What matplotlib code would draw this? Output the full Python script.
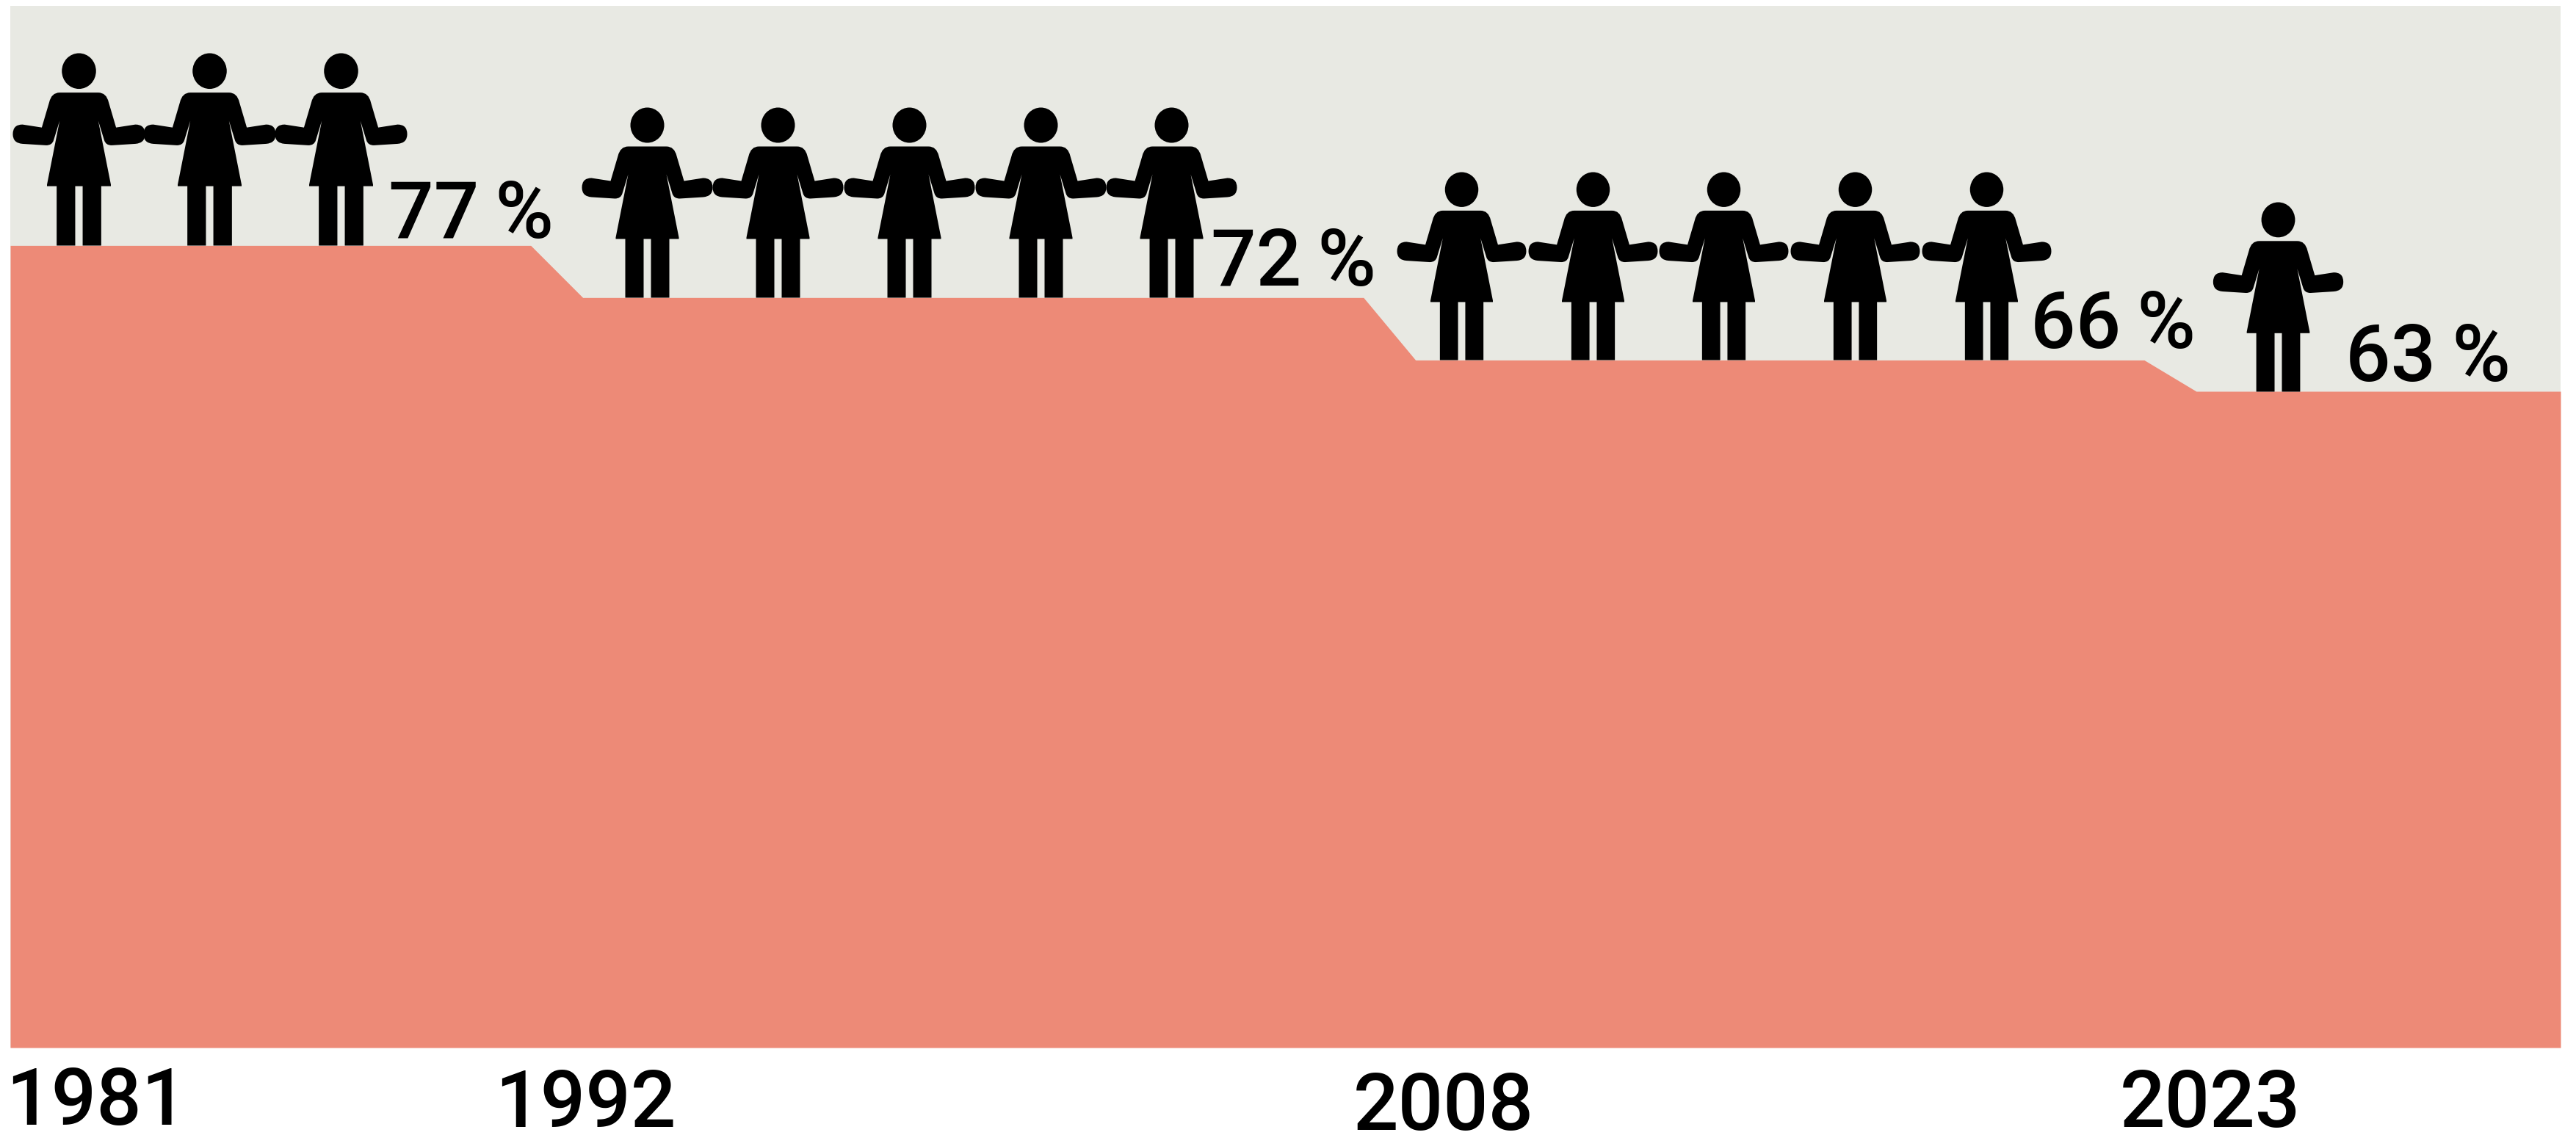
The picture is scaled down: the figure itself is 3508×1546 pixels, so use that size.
import numpy as np
import matplotlib.pyplot as plt
from matplotlib.path import Path
from matplotlib.transforms import Affine2D

# Share of women
years = [1981, 1991, 1992, 2007, 2008, 2022, 2023, 2030]
shares = [77, 77, 72, 72, 66, 66, 63, 63]

# Rows of figures standing on each level
row_share = [77, 72, 66, 63]
row_count = [3, 5, 5, 1]
row_labels = ['77\u2009%', '72\u2009%', '66\u2009%', '63\u2009%']

# Year labels below the area
year_labels = ['1981', '1992', '2008', '2023']

area_color = '#ed8a77'
back_color = '#e8e9e3'

# Layout, in years / percent
row_start = [1982.31, 1993.23, 2008.88, 2024.57]
row_step = 2.52
row_height = [262, 259, 256, 258]
label_x = [1989.85, 2005.66, 2021.4, 2027.46]
label_y = [0.7, 1.13, 1.13, 1.0]
year_x = [1982.65, 1992.05, 2008.54, 2023.27]
year_y = [-7.4, -7.61, -7.89, -7.61]


def person_path():
    # left half of the outline, feet at the origin (units are pixels of the picture)
    half = [
        (0, 206), (-26, 206), (-37, 206), (-40, 193), (-50, 159), (-76, 163),
        (-89, 163), (-89, 150), (-89, 138), (-76, 137), (-44, 135), (-36, 135),
        (-34, 142), (-26, 168), (-43, 82), (-43, 80), (-30, 80), (-30, 0),
        (-5, 0), (-5, 80), (0, 80),
    ]
    code = [Path.MOVETO, Path.LINETO, Path.CURVE3, Path.CURVE3, Path.LINETO, Path.LINETO,
            Path.CURVE3, Path.CURVE3, Path.CURVE3, Path.CURVE3, Path.LINETO, Path.CURVE3,
            Path.CURVE3, Path.LINETO, Path.LINETO, Path.LINETO, Path.LINETO, Path.LINETO,
            Path.LINETO, Path.LINETO, Path.LINETO]
    right = [(-x, y) for x, y in half[-2::-1]]
    code_r = code[:0:-1]
    body = Path(half + right + [(0, 206)], code + code_r + [Path.CLOSEPOLY])
    head = Path.unit_circle().transformed(Affine2D().scale(23, 24).translate(0, 235))
    return Path.make_compound_path(body, head)


plt.rcParams['font.family'] = ['Roboto', 'DejaVu Sans']

fig = plt.figure(figsize=(35.08, 15.46), dpi=100)
ax = fig.add_axes([14 / 3508, 119 / 1546, 3473 / 3508, 1419 / 1546])
ax.set_facecolor(back_color)
ax.fill_between(years, 0, shares, color=area_color, lw=0)
ax.set_xlim(1981, 2030)
ax.set_ylim(0, 100)
ax.set_xticks([])
ax.set_yticks([])
for s in ax.spines.values():
    s.set_visible(False)

# Figures (a custom marker gets scaled so that its largest coordinate is half the size)
marker = person_path()
for share, n, start, h in zip(row_share, row_count, row_start, row_height):
    xs = start + row_step * np.arange(n)
    msize = 2 * h * 72 / fig.dpi
    ax.plot(xs, [share] * n, ls='none', marker=marker, ms=msize, mfc='black', mew=0, clip_on=False)

for lab, x, share, dy in zip(row_labels, label_x, row_share, label_y):
    ax.text(x, share + dy, lab, fontsize=78, weight='medium', ha='center', va='baseline', color='black')

for lab, x, y in zip(year_labels, year_x, year_y):
    ax.text(x, y, lab, fontsize=78, weight='medium', ha='center', va='baseline', color='black', clip_on=False)

fig.savefig('out.png', dpi=100)
